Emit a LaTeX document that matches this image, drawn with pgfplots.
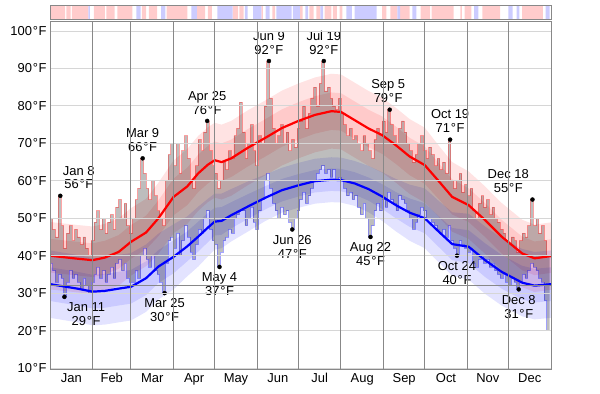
\documentclass[border=0pt]{standalone}
\usepackage{fontspec}
\setmainfont{Liberation Sans}
\usepackage{pgfplots}
\pgfplotsset{compat=1.18}
\usepackage{pgfplotstable}
\usepgfplotslibrary{fillbetween}

\definecolor{gridlight}{RGB}{214,214,214}
\definecolor{griddark}{RGB}{136,136,136}
\definecolor{strippink}{RGB}{255,204,204}
\definecolor{stripblue}{RGB}{204,204,255}
\newcommand{\degF}{\kern0.8pt°\kern0.6ptF}

% daily observed high / low (2-day bins, start day of year)
\pgfplotstableread{
d hi lo
0 50 38
2 47 36
4 45 33
6 56 35
8 48 34
10 42 29
12 46 33
14 48 36
16 44 34
18 47 35
20 45 33
22 43 31
24 45 34
26 42 32
28 40 30
30 44 33
32 49 35
34 52 37
36 47 34
38 50 36
40 46 33
42 49 35
44 51 37
46 47 34
48 53 38
50 55 39
52 50 36
54 54 38
56 48 34
58 46 33
60 50 33
62 55 36
64 58 34
66 66 40
68 62 42
70 58 39
72 55 37
74 60 40
76 56 36
78 52 35
80 50 33
82 48 30
84 60 38
86 67 44
88 70 45
90 64 42
92 70 46
94 62 40
96 68 44
98 72 48
100 66 45
102 60 41
104 58 39
106 64 43
108 71 47
110 68 46
112 73 50
114 76 52
116 68 47
118 64 44
120 62 43
122 58 37
124 60 41
126 65 44
128 63 45
130 68 47
132 66 46
134 72 50
136 74 51
138 81 52
140 73 52
142 66 48
144 70 50
146 75 53
148 68 49
150 64 47
152 72 52
154 70 55
156 80 60
158 92 62
160 82 58
162 74 54
164 70 52
166 72 50
168 75 53
170 70 51
172 73 52
174 68 49
176 71 47
178 69 50
180 74 52
182 76 55
184 80 57
186 74 54
188 78 56
190 82 58
192 85 60
194 80 62
196 86 63
198 92 64
200 84 62
202 85 63
204 82 61
206 80 63
208 79 60
210 82 61
212 78 60
214 75 58
216 72 56
218 74 57
220 71 55
222 72 56
224 70 53
226 68 51
228 72 54
230 70 50
232 68 45
234 66 48
236 71 52
238 74 54
240 72 52
242 76 55
244 73 53
246 79 57
248 75 55
250 72 54
252 70 52
254 74 56
256 76 55
258 73 54
260 70 52
262 68 50
264 65 47
266 67 49
268 70 51
270 72 53
272 68 52
274 66 50
276 69 50
278 67 49
280 64 48
282 66 47
284 63 46
286 65 47
288 62 45
290 71 48
292 60 44
294 58 42
296 60 40
298 62 44
300 57 43
302 59 42
304 56 41
306 58 42
308 52 38
310 50 37
312 54 39
314 56 40
316 53 38
318 55 39
320 51 37
322 53 38
324 50 36
326 49 35
328 47 34
330 46 35
332 44 33
334 43 32
336 45 34
338 44 33
340 41 31
342 44 33
344 46 35
346 45 34
348 48 36
350 55 38
352 48 37
354 50 36
356 46 34
358 48 33
360 44 28
362 40 20
364 40 20
}\daily

% normals with percentile bands
\pgfplotstableread{
d hi lo h10 h25 h75 h90 l10 l25 l75 l90
0 40.0 32.4 31.0 35.5 44.5 49.0 23.4 27.9 36.9 41.4
10 39.6 31.8 30.6 35.1 44.1 48.6 22.8 27.3 36.3 40.8
20 39.2 31.2 30.2 34.7 43.7 48.2 22.2 26.7 35.7 40.2
31 38.8 30.4 29.8 34.3 43.3 47.8 21.4 25.9 34.9 39.4
40 39.5 30.6 30.5 35.0 44.0 48.5 21.6 26.1 35.1 39.6
50 41.0 31.2 32.0 36.5 45.5 50.0 22.2 26.7 35.7 40.2
59 43.7 31.7 34.7 39.2 48.2 52.7 22.7 27.2 36.2 40.7
70 46.2 34.0 37.2 41.7 50.7 55.2 25.0 29.5 38.5 43.0
79 50.0 37.1 40.5 45.2 54.8 59.5 28.3 32.7 41.5 45.9
90 55.7 39.7 46.0 50.8 60.6 65.4 31.0 35.3 44.1 48.4
100 58.5 42.5 48.5 53.5 63.5 68.5 34.5 38.5 46.5 50.5
108 62.0 45.1 52.0 57.0 67.0 72.0 37.1 41.1 49.1 53.1
115 64.3 47.5 54.3 59.3 69.3 74.3 39.8 43.6 51.4 55.2
120 65.5 49.1 55.5 60.5 70.5 75.5 41.6 45.4 52.8 56.6
125 65.0 49.3 55.0 60.0 70.0 75.0 42.0 45.6 53.0 56.6
132 66.0 50.8 56.0 61.0 71.0 76.0 43.8 47.3 54.3 57.8
144 68.8 53.1 58.8 63.8 73.8 78.8 46.4 49.8 56.4 59.8
157 71.5 55.5 61.5 66.5 76.5 81.5 49.3 52.4 58.6 61.7
169 74.1 57.5 64.1 69.1 79.1 84.1 51.5 54.5 60.5 63.5
181 76.0 58.8 66.0 71.0 81.0 86.0 52.8 55.8 61.8 64.8
193 77.6 59.9 67.6 72.6 82.6 87.6 53.9 56.9 62.9 65.9
205 78.6 60.3 68.6 73.6 83.6 88.6 54.3 57.3 63.3 66.3
212 78.4 60.2 68.4 73.4 83.4 88.4 54.2 57.2 63.2 66.2
222 76.2 59.3 66.2 71.2 81.2 86.2 53.3 56.3 62.3 65.3
232 74.0 57.8 64.0 69.0 79.0 84.0 51.6 54.7 60.9 64.0
242 72.2 55.8 62.2 67.2 77.2 82.2 49.3 52.5 59.1 62.3
252 69.5 53.5 59.5 64.5 74.5 79.5 46.5 50.0 57.0 60.5
262 66.5 51.5 56.5 61.5 71.5 76.5 44.0 47.7 55.3 59.0
273 64.2 50.0 54.2 59.2 69.2 74.2 42.0 46.0 54.0 58.0
283 60.0 46.5 50.5 55.2 64.8 69.5 38.3 42.4 50.6 54.7
293 55.7 43.1 46.4 51.0 60.4 65.0 34.6 38.8 47.4 51.6
305 53.5 42.4 44.5 49.0 58.0 62.5 33.6 38.0 46.8 51.2
317 49.5 38.8 40.5 45.0 54.0 58.5 29.8 34.3 43.3 47.8
329 45.1 35.7 36.1 40.6 49.6 54.1 26.7 31.2 40.2 44.7
344 40.6 32.8 31.6 36.1 45.1 49.6 23.8 28.3 37.3 41.8
353 39.3 32.0 30.3 34.8 43.8 48.3 23.0 27.5 36.5 41.0
365 39.9 32.4 30.9 35.4 44.4 48.9 23.4 27.9 36.9 41.4
}\normals

% top strip: warmer (pink) / colder (blue) than normal
\pgfplotstableread{
d v
0 1
11 0
12 1
15 0
16 1
28 0
32 1
40 0
41 1
47 0
49 1
60 0
67 1
70 0
72 1
78 0
85 1
100 0
107 1
113 0
115 1
118 0
133 1
137 0
138 1
141 0
154 1
155 0
162 1
164 0
182 1
184 0
189 1
192 0
194 1
197 0
200 1
205 0
206 1
209 0
211 1
213 0
242 1
245 0
248 1
253 0
255 1
262 0
270 1
277 0
278 1
294 0
299 1
300 0
302 1
307 0
315 1
328 0
344 1
359 0
365 0
}\pinkstrip

\pgfplotstableread{
d v
0 0
28 1
29 0
63 1
66 0
81 1
84 0
103 1
107 0
122 1
133 0
142 1
144 0
148 1
154 0
157 1
160 0
165 1
176 0
177 1
182 0
186 1
188 0
197 1
199 0
216 1
220 0
222 1
238 0
253 1
255 0
264 1
267 0
309 1
312 0
334 1
337 0
340 1
342 0
361 1
364 0
365 0
}\bluestrip

\begin{document}
\begin{tikzpicture}[
  hl/.style={anchor=south, align=center, font=\fontsize{13}{14}\selectfont, inner sep=0pt, yshift=6.5bp},
  ll/.style={anchor=north, align=center, font=\fontsize{13}{14}\selectfont, inner sep=0pt, yshift=-5.5bp},
]
\begin{axis}[
  at={(50bp,24bp)}, anchor=south west,
  width=501bp, height=348.3bp, scale only axis,
  xmin=0, xmax=365, ymin=9.47, ymax=102.5,
  axis on top,
  axis line style={griddark, line width=1bp},
  tick label style={font=\fontsize{13}{14}\selectfont, text=black},
  xtick={15.5,45,74.5,105,135.5,166,196.5,227.5,258,288.5,319,349.5},
  xticklabels={Jan,Feb,Mar,Apr,May,Jun,Jul,Aug,Sep,Oct,Nov,Dec},
  ytick={10,20,30,40,50,60,70,80,90,100},
  yticklabels={10\degF,20\degF,30\degF,40\degF,50\degF,60\degF,70\degF,80\degF,90\degF,100\degF},
  major tick length=0pt,
  ymajorgrids,
  major grid style={gridlight, line width=1bp},
  extra x ticks={31,59,90,120,151,181,212,243,273,304,334},
  extra x tick labels={},
  extra x tick style={grid=major, major grid style={griddark, line width=1bp}},
  extra y ticks={32},
  extra y tick labels={},
  extra y tick style={grid=major, major grid style={griddark, line width=1bp}},
]
% percentile bands
\addplot[draw=none, name path=h90] table[x=d,y=h90]{\normals};
\addplot[draw=none, name path=h10] table[x=d,y=h10]{\normals};
\addplot[draw=none, name path=h75] table[x=d,y=h75]{\normals};
\addplot[draw=none, name path=h25] table[x=d,y=h25]{\normals};
\addplot[draw=none, name path=l90] table[x=d,y=l90]{\normals};
\addplot[draw=none, name path=l10] table[x=d,y=l10]{\normals};
\addplot[draw=none, name path=l75] table[x=d,y=l75]{\normals};
\addplot[draw=none, name path=l25] table[x=d,y=l25]{\normals};
\addplot[red, fill opacity=0.11, draw=none] fill between[of=h90 and h10];
\addplot[red, fill opacity=0.11, draw=none] fill between[of=h75 and h25];
\addplot[blue, fill opacity=0.11, draw=none] fill between[of=l90 and l10];
\addplot[blue, fill opacity=0.11, draw=none] fill between[of=l75 and l25];

% daily ranges
\addplot[const plot, draw=red, draw opacity=0.35, line width=0.8bp, name path=dhi] table[x=d,y=hi]{\daily};
\addplot[const plot, draw=blue, draw opacity=0.35, line width=0.8bp, name path=dlo] table[x=d,y=lo]{\daily};
\addplot[black, fill opacity=0.26, draw=none] fill between[of=dhi and dlo];

% normal high / low
\addplot[red, line width=2.2bp, line join=round] table[x=d,y=hi]{\normals};
\addplot[blue, line width=2.2bp, line join=round] table[x=d,y=lo]{\normals};

% extremes
\addplot[only marks, mark=*, mark size=2bp, black] coordinates {
 (7.5,56) (67.5,66) (114.5,76) (159.5,92) (199.5,92) (247.5,79) (291.5,71) (351.5,55)
 (10.5,29) (83.5,30) (123.5,37) (176.5,47) (233.5,45) (296.5,40) (341.5,31)};

\node[hl, anchor=south west, xshift=2.5bp] at (axis cs:7.5,56) {Jan 8\\56\degF};
\node[hl] at (axis cs:67.5,66) {Mar 9\\66\degF};
\node[hl] at (axis cs:114.5,76) {Apr 25\\76\degF};
\node[hl] at (axis cs:159.5,92) {Jun 9\\92\degF};
\node[hl] at (axis cs:199.5,92) {Jul 19\\92\degF};
\node[hl, xshift=-1.5bp] at (axis cs:247.5,79) {Sep 5\\79\degF};
\node[hl] at (axis cs:291.5,71) {Oct 19\\71\degF};
\node[hl, anchor=south east, xshift=-3.5bp] at (axis cs:351.5,55) {Dec 18\\55\degF};
\node[ll, anchor=north west, xshift=2.5bp] at (axis cs:10.5,29) {Jan 11\\29\degF};
\node[ll] at (axis cs:83.5,30) {Mar 25\\30\degF};
\node[ll] at (axis cs:123.5,37) {May 4\\37\degF};
\node[ll] at (axis cs:176.5,47) {Jun 26\\47\degF};
\node[ll] at (axis cs:233.5,45) {Aug 22\\45\degF};
\node[ll] at (axis cs:296.5,40) {Oct 24\\40\degF};
\node[ll] at (axis cs:341.5,31) {Dec 8\\31\degF};
\end{axis}

\begin{axis}[
  at={(50bp,374bp)}, anchor=south west,
  width=501bp, height=14bp, scale only axis,
  xmin=0, xmax=365, ymin=0, ymax=1,
  axis on top,
  axis line style={griddark, line width=1bp},
  xtick=\empty, ytick=\empty,
]
\addplot[fill=strippink, draw=none, const plot] table[x=d,y=v]{\pinkstrip} \closedcycle;
\addplot[fill=stripblue, draw=none, const plot] table[x=d,y=v]{\bluestrip} \closedcycle;
\end{axis}
\pgfresetboundingbox
\path[use as bounding box] (0,0) rectangle (600bp,394bp);
\end{tikzpicture}
\end{document}
